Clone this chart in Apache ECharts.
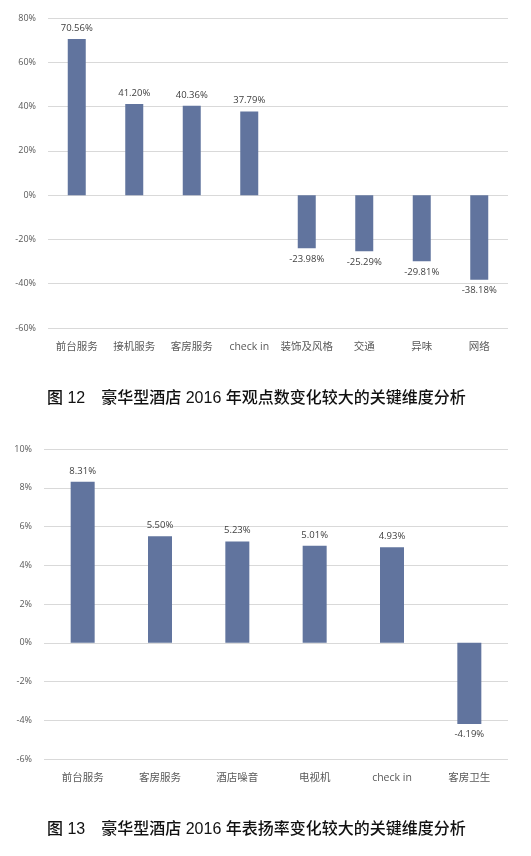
<!DOCTYPE html>
<html>
<head>
<meta charset="utf-8">
<script src="https://cdn.jsdelivr.net/npm/echarts@6/dist/echarts.min.js"></script>
<style>
  html, body { margin: 0; padding: 0; background: #fff; }
  #main { width: 531px; height: 856px; }
</style>
</head>
<body>
<div id="main"></div>
<script>
// 图 12 观点数变化
var cats1 = ['前台服务', '接机服务', '客房服务', 'check in', '装饰及风格', '交通', '异味', '网络'];
var vals1 = [70.56, 41.20, 40.36, 37.79, -23.98, -25.29, -29.81, -38.18];
// 图 13 表扬率变化
var cats2 = ['前台服务', '客房服务', '酒店噪音', '电视机', 'check in', '客房卫生'];
var vals2 = [8.31, 5.50, 5.23, 5.01, 4.93, -4.19];

var caption1 = '图 12\u3000豪华型酒店 2016 年观点数变化较大的关键维度分析';
var caption2 = '图 13\u3000豪华型酒店 2016 年表扬率变化较大的关键维度分析';

var barColor = '#61749e';
var textFont = 'Open Sans, Noto Sans CJK SC, sans-serif';
var capFont = 'Liberation Sans, Noto Sans CJK SC, sans-serif';

function barData(vals) {
    return vals.map(function (v) {
        return {
            value: v,
            label: { position: v < 0 ? 'bottom' : 'top' }
        };
    });
}

function yAxis(gridIndex, min, max, step) {
    return {
        type: 'value',
        gridIndex: gridIndex,
        min: min,
        max: max,
        interval: step,
        axisLine: { show: false },
        axisTick: { show: false },
        axisLabel: {
            formatter: '{value}%',
            color: '#595959',
            fontSize: 9,
            fontFamily: textFont,
            margin: 12
        },
        splitLine: { lineStyle: { color: '#d9d9d9', width: 1 } }
    };
}

function xAxis(gridIndex, cats) {
    return {
        type: 'category',
        gridIndex: gridIndex,
        data: cats,
        position: 'bottom',
        axisLine: { show: false, onZero: false },
        axisTick: { show: false },
        axisLabel: {
            color: '#595959',
            fontSize: 10.5,
            fontFamily: textFont,
            margin: 14,
            interval: 0
        }
    };
}

function barSeries(idx, vals, width) {
    return {
        type: 'bar',
        xAxisIndex: idx,
        yAxisIndex: idx,
        data: barData(vals),
        barWidth: width,
        itemStyle: { color: barColor },
        label: {
            show: true,
            distance: 6,
            color: '#404040',
            fontSize: 9.5,
            fontFamily: textFont,
            formatter: function (p) { return p.value.toFixed(2) + '%'; }
        }
    };
}

var chart = echarts.init(document.getElementById('main'));

chart.setOption({
    animation: false,
    backgroundColor: '#ffffff',
    grid: [
        { left: 48, right: 23, top: 18, height: 310 },
        { left: 44, right: 23, top: 449, height: 310 }
    ],
    xAxis: [xAxis(0, cats1), xAxis(1, cats2)],
    yAxis: [yAxis(0, -60, 80, 20), yAxis(1, -6, 10, 2)],
    series: [barSeries(0, vals1, 18), barSeries(1, vals2, 24)],
    graphic: [
        {
            type: 'text', left: 47, top: 391,
            style: { text: caption1, fontSize: 16, fill: '#111', fontFamily: capFont, fontWeight: 500 }
        },
        {
            type: 'text', left: 47, top: 822,
            style: { text: caption2, fontSize: 16, fill: '#111', fontFamily: capFont, fontWeight: 500 }
        }
    ]
});
</script>
</body>
</html>
